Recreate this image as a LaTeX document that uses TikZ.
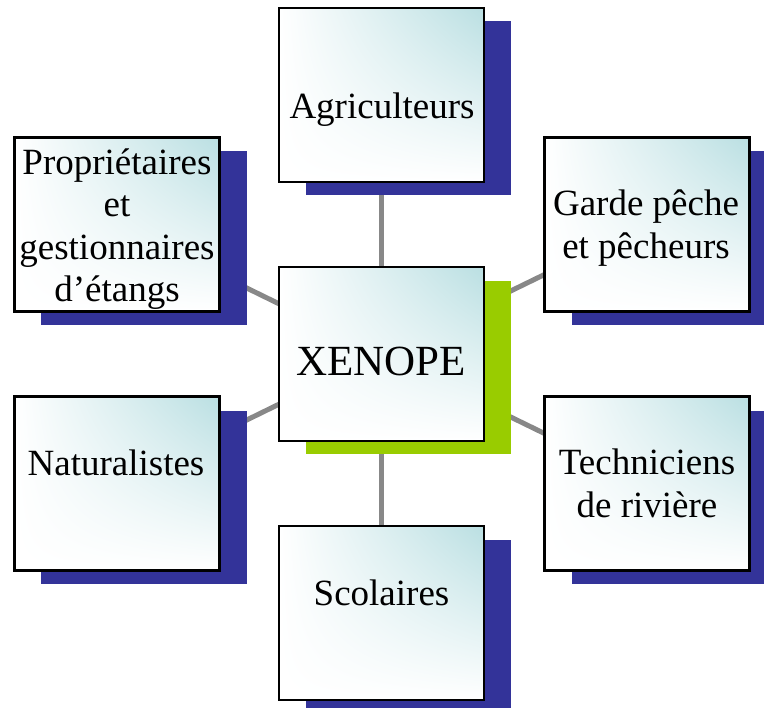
\documentclass[tikz,border=0pt]{standalone}
\usepackage{fontspec}
\setmainfont{Liberation Serif}
\usetikzlibrary{shadings}
\definecolor{tealc}{RGB}{186,223,226}
\definecolor{shblue}{RGB}{51,51,153}
\definecolor{shgreen}{RGB}{153,204,0}
\definecolor{linkgray}{RGB}{136,136,136}
\pgfdeclarelayer{background}
\pgfsetlayers{background,main}
\tikzset{
  box/.style={draw=black, line width=2.5bp, minimum width=205bp, minimum height=174bp,
    inner sep=0pt, shade, upper right=tealc, upper left=white, lower left=white, lower right=white},
  shadowbox/.style={draw=none, minimum width=205bp, minimum height=173bp, inner sep=0pt},
  lbl/.style={anchor=base, align=center, inner sep=0pt,
    font=\fontsize{37bp}{42.5bp}\selectfont},
  biglbl/.style={anchor=base, align=center, inner sep=0pt,
    font=\fontsize{43bp}{48bp}\selectfont},
  link/.style={draw=linkgray, line width=5bp}
}
\begin{document}
\begin{tikzpicture}[x=1bp,y=-1bp]
\useasboundingbox (0,0) rectangle (764,708);
\clip (0,0) rectangle (764,708);

% shadows
\node[shadowbox, fill=shblue] (agrish) at (408.5,108) {};
\node[shadowbox, fill=shgreen] (xensh) at (408.5,367.5) {};
\node[shadowbox, fill=shblue] (propsh) at (144,238) {};
\node[shadowbox, fill=shblue] (gardesh) at (674,238) {};
\node[shadowbox, fill=shblue] (natsh) at (144,497) {};
\node[shadowbox, fill=shblue] (techsh) at (674,497) {};
\node[shadowbox, fill=shblue] (scolsh) at (408.5,626.5) {};

% boxes
\node[box] (agri) at (381.5,95) {};
\node[box] (xen) at (381.5,354) {};
\node[box] (prop) at (117,224.5) {};
\node[box] (garde) at (647,224.5) {};
\node[box] (nat) at (117,483.5) {};
\node[box] (tech) at (647,483.5) {};
\node[box] (scol) at (381.5,613) {};

% connectors
\begin{pgfonlayer}{background}
\draw[link] (xen.center) -- (agri.center);
\draw[link] (xen.center) -- (scol.center);
\draw[link] (xen.center) -- (prop.center);
\draw[link] (xen.center) -- (garde.center);
\draw[link] (xen.center) -- (nat.center);
\draw[link] (xen.center) -- (tech.center);
\end{pgfonlayer}

% labels (base anchor = baseline of the last line)
\node[lbl] (tagri) at (382,119) {Agriculteurs};
\node[biglbl] (txen) at (381,375) {XENOPE};
\node[lbl] (tprop) at (117,301.5) {Propriétaires\\et\\gestionnaires\\d’étangs};
\node[lbl] (tgarde) at (646,258) {Garde pêche\\et pêcheurs};
\node[lbl] (tnat) at (116,475) {Naturalistes};
\node[lbl] (ttech) at (647,517) {Techniciens\\de rivière};
\node[lbl] (tscol) at (381.5,605) {Scolaires};
\end{tikzpicture}
\end{document}
